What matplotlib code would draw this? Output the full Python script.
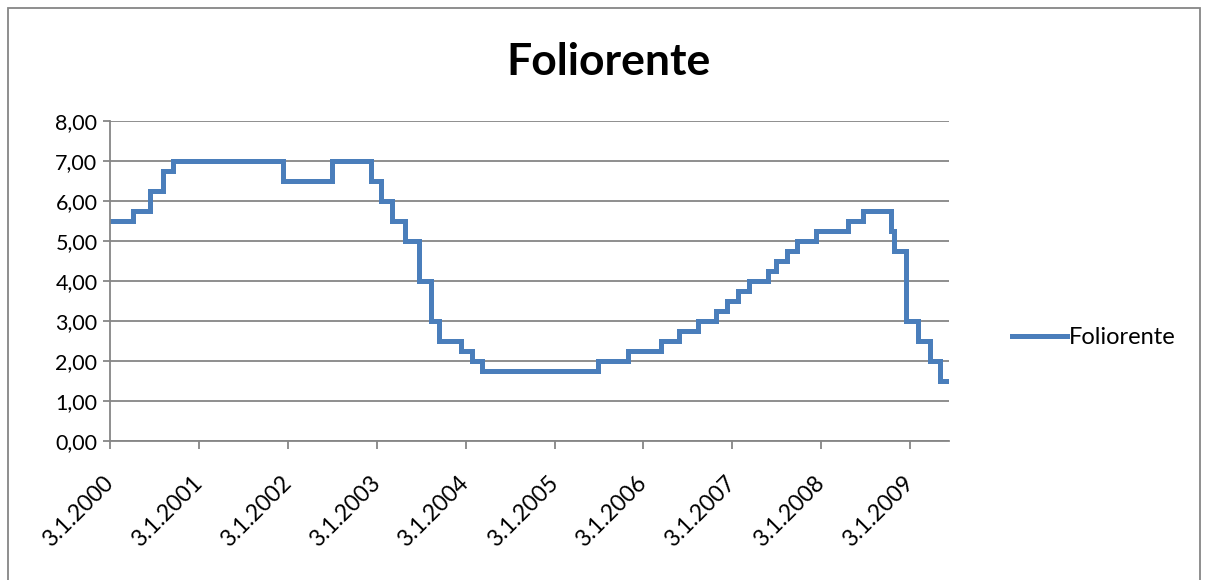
import pandas as pd
import matplotlib.pyplot as plt
from matplotlib.patches import Rectangle
from matplotlib.ticker import FuncFormatter

# Step data: date the rate took effect, and the rate (%)
change_dates = ["2000-01-03", "2000-04-06", "2000-06-15", "2000-08-08", "2000-09-18",
                "2001-12-12", "2002-07-03", "2002-12-11", "2003-01-22", "2003-03-05",
                "2003-04-30", "2003-06-25", "2003-08-13", "2003-09-17", "2003-12-17",
                "2004-01-28", "2004-03-11", "2005-06-29", "2005-11-02", "2006-03-16",
                "2006-05-31", "2006-08-16", "2006-10-30", "2006-12-13", "2007-01-25",
                "2007-03-14", "2007-06-01", "2007-07-01", "2007-08-16", "2007-09-26",
                "2007-12-12", "2008-04-23", "2008-06-25", "2008-10-15", "2008-10-29",
                "2008-12-17", "2009-02-04", "2009-03-25", "2009-05-06", "2009-06-12"]
rates = [5.50, 5.75, 6.25, 6.75, 7.00,
         6.50, 7.00, 6.50, 6.00, 5.50,
         5.00, 4.00, 3.00, 2.50, 2.25,
         2.00, 1.75, 2.00, 2.25, 2.50,
         2.75, 3.00, 3.25, 3.50, 3.75,
         4.00, 4.25, 4.50, 4.75, 5.00,
         5.25, 5.50, 5.75, 5.25, 4.75,
         3.00, 2.50, 2.00, 1.50, 1.50]
tick_years = list(range(2000, 2010))

df = pd.DataFrame({"Date": pd.to_datetime(change_dates), "Rate": rates})

plt.rcParams['font.family'] = ['Lato', 'DejaVu Sans']

W, H = 1205, 580
fig = plt.figure(figsize=(W / 100, H / 100), dpi=100)
ax = fig.add_axes([110 / W, 1 - 441 / H, (949 - 110) / W, (441 - 121) / H])

line_color = "#4A7EBB"
grid_color = "#868686"

ax.step(df["Date"], df["Rate"], where="post", color=line_color, lw=3.6,
        label="Foliorente", solid_joinstyle="miter")

ax.set_xlim(df["Date"].iloc[0], df["Date"].iloc[-1])
ax.set_ylim(0, 8)
ax.set_yticks(range(0, 9))
ax.yaxis.set_major_formatter(FuncFormatter(lambda v, p: f"{v:.2f}".replace(".", ",")))

ticks = [pd.Timestamp(f"{y}-01-03") for y in tick_years]
ax.set_xticks(ticks)
ax.set_xticklabels([f"3.1.{y}" for y in tick_years], rotation=45, ha="right",
                   va="center", rotation_mode="anchor", fontsize=16.5)
for lab in ax.get_yticklabels():
    lab.set_fontsize(15.5)

ax.grid(axis="y", color=grid_color, lw=1.3)
ax.set_axisbelow(True)
for s in ["top", "right"]:
    ax.spines[s].set_visible(False)
for s in ["left", "bottom"]:
    ax.spines[s].set_color(grid_color)
    ax.spines[s].set_linewidth(1.3)
ax.tick_params(axis="x", direction="out", length=6, color=grid_color, width=1.3, pad=22)
ax.tick_params(axis="y", direction="out", length=5, color=grid_color, width=1.3, pad=4)

fig.text(608 / W, 1 - 62 / H, "Foliorente", ha="center", va="center",
         fontsize=32, fontweight="bold")

fig.legend(loc="center left", bbox_to_anchor=(1003 / W, 1 - 338 / H), frameon=False,
           fontsize=17, handlelength=2.3, handletextpad=0.1, borderaxespad=0)

fig.patches.append(Rectangle((8 / W, -0.05), (1200 - 8) / W, 1.05 - 8 / H,
                             transform=fig.transFigure, fill=False,
                             edgecolor=grid_color, lw=1.3))

fig.savefig("out.png", dpi=100)
